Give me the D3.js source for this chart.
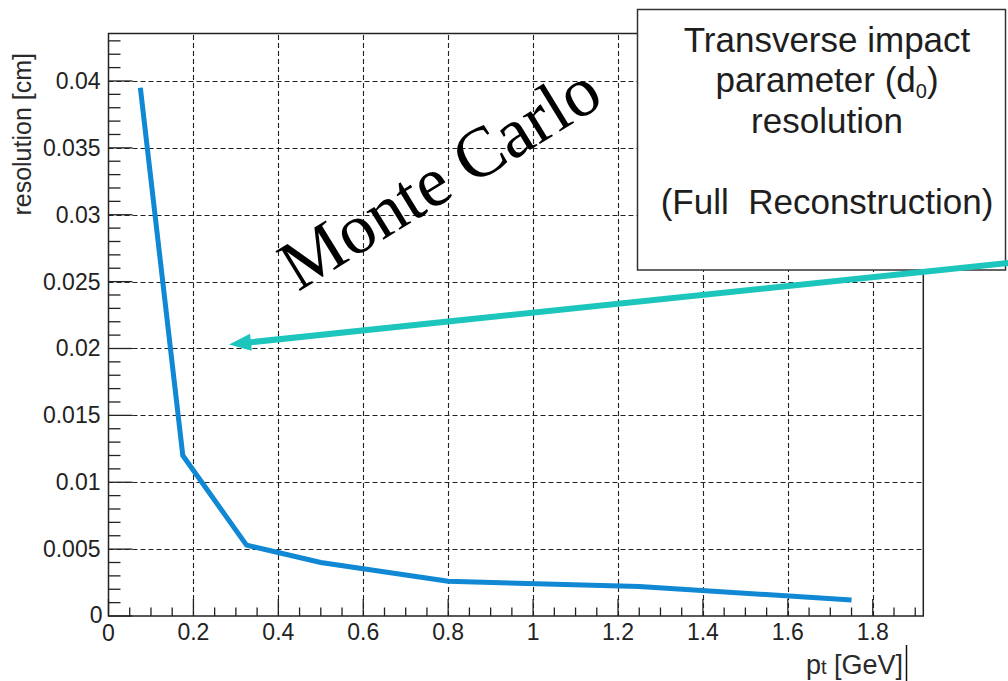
<!DOCTYPE html>
<html lang="en">
<head>
    <meta charset="UTF-8">
    <title>d0 resolution vs pt</title>
    <style>
        body, html {
            margin: 0;
            background-color: #ffffff;
        }
        svg {
            display: block;
        }
        text {
            white-space: pre;
        }
    </style>
</head>
<body>
    <script src="https://d3js.org/d3.v7.min.js"></script>
    <script>
        // data
        var ptValues = [0.075, 0.175, 0.325, 0.5, 0.8, 1.25, 1.75];
        var resValues = [0.0395, 0.012, 0.0053, 0.004, 0.0026, 0.0022, 0.0012];

        var xTickValues = [0, 0.2, 0.4, 0.6, 0.8, 1, 1.2, 1.4, 1.6, 1.8];
        var xTickLabels = ["0", "0.2", "0.4", "0.6", "0.8", "1", "1.2", "1.4", "1.6", "1.8"];
        var yTickValues = [0, 0.005, 0.01, 0.015, 0.02, 0.025, 0.03, 0.035, 0.04];
        var yTickLabels = ["0", "0.005", "0.01", "0.015", "0.02", "0.025", "0.03", "0.035", "0.04"];

        // arrow in data coordinates: tail (off the right edge) -> tip
        var arrowFrom = [2.12, 0.0264];
        var arrowTo = [0.284, 0.0203];

        var boxLines = ["Transverse impact", "parameter (d0)", "resolution", "", "(Full  Reconstruction)"];

        var width = 1008,
            height = 681;
        var margin = {left: 108.5, top: 33.5, right: 1008 - 923.3, bottom: 681 - 616};

        var svg = d3.select("body").append("svg")
            .attr("width", width)
            .attr("height", height);

        var x = d3.scaleLinear().domain([0, 1.919]).range([margin.left, width - margin.right]);
        var y = d3.scaleLinear().domain([0, 0.04355]).range([height - margin.bottom, margin.top]);

        var x0 = x.range()[0], x1 = x.range()[1];
        var y0 = y.range()[0], y1 = y.range()[1];

        // grid
        var grid = svg.append("g").attr("stroke", "#222").attr("stroke-width", 1.1)
            .attr("stroke-dasharray", "5,3");
        grid.selectAll(".gx").data(xTickValues.slice(1)).enter().append("line")
            .attr("x1", d => Math.round(x(d)) + 0.5).attr("x2", d => Math.round(x(d)) + 0.5)
            .attr("y1", y0).attr("y2", y1);
        grid.selectAll(".gy").data(yTickValues.slice(1)).enter().append("line")
            .attr("y1", d => Math.round(y(d)) + 0.5).attr("y2", d => Math.round(y(d)) + 0.5)
            .attr("x1", x0).attr("x2", x1);

        // minor + major ticks (inside, ROOT style)
        var ticks = svg.append("g").attr("stroke", "#222").attr("stroke-width", 1.3);
        var xMinor = d3.range(0, 1.919, 0.05);
        ticks.selectAll(".tx").data(xMinor).enter().append("line")
            .attr("x1", d => x(d)).attr("x2", d => x(d))
            .attr("y1", y0).attr("y2", (d, i) => y0 - (i % 4 === 0 ? 17 : 8.5));
        var yMinor = d3.range(0, 0.0435, 0.001);
        ticks.selectAll(".ty").data(yMinor).enter().append("line")
            .attr("y1", d => y(d)).attr("y2", d => y(d))
            .attr("x1", x0).attr("x2", (d, i) => x0 + (i % 5 === 0 ? 24 : 12));

        // frame
        svg.append("rect")
            .attr("x", x0).attr("y", y1)
            .attr("width", x1 - x0).attr("height", y0 - y1)
            .attr("fill", "none").attr("stroke", "#222").attr("stroke-width", 1.5);

        // tick labels
        var labelFont = "Liberation Sans, Arial, sans-serif";
        svg.append("g").selectAll("text").data(xTickValues).enter().append("text")
            .attr("x", d => x(d))
            .attr("y", (d, i) => i === 0 ? y0 + 25 : y0 + 24)
            .attr("text-anchor", "middle")
            .attr("font-family", labelFont).attr("font-size", 23).attr("fill", "#222")
            .text((d, i) => xTickLabels[i]);
        svg.append("g").selectAll("text").data(yTickValues).enter().append("text")
            .attr("x", (d, i) => i === 0 ? x0 - 6 : x0 - 8)
            .attr("y", (d, i) => i === 0 ? y(d) + 7 : y(d) + 8)
            .attr("text-anchor", "end")
            .attr("font-family", labelFont).attr("font-size", 23).attr("fill", "#222")
            .text((d, i) => yTickLabels[i]);

        // axis titles
        svg.append("text")
            .attr("transform", "translate(31,53) rotate(-90)")
            .attr("text-anchor", "end")
            .attr("font-family", labelFont).attr("font-size", 25).attr("fill", "#2a2a2a")
            .text("resolution [cm]");
        var xt = svg.append("text")
            .attr("x", 903).attr("y", 674)
            .attr("text-anchor", "end")
            .attr("font-family", labelFont).attr("font-size", 27).attr("fill", "#2a2a2a");
        xt.append("tspan").text("p");
        xt.append("tspan").attr("font-size", 20).text("t");
        xt.append("tspan").text(" [GeV]");
        svg.append("line")
            .attr("x1", 906.5).attr("x2", 906.5).attr("y1", 645).attr("y2", 681)
            .attr("stroke", "#111").attr("stroke-width", 1.5);

        // the curve
        var pts = ptValues.map((d, i) => [d, resValues[i]]);
        var line = d3.line().x(d => x(d[0])).y(d => y(d[1]));
        svg.append("path")
            .datum(pts)
            .attr("d", line)
            .attr("fill", "none")
            .attr("stroke", "#1088d4")
            .attr("stroke-width", 5)
            .attr("stroke-linejoin", "miter");

        // Monte Carlo label
        svg.append("text")
            .attr("transform", "translate(298,292) rotate(-31.5)")
            .attr("font-family", "Liberation Serif, Times New Roman, serif")
            .attr("font-size", 71).attr("fill", "#000")
            .text("Monte Carlo");

        // text box
        svg.append("rect")
            .attr("x", 637.5).attr("y", 9.5).attr("width", 368).attr("height", 260.5)
            .attr("fill", "#fff").attr("stroke", "#333").attr("stroke-width", 1.5);
        var bt = svg.append("g")
            .attr("font-family", labelFont).attr("font-size", 35).attr("fill", "#1e1e1e")
            .attr("text-anchor", "middle");
        boxLines.forEach(function(s, i) {
            var t = bt.append("text").attr("x", 827).attr("y", 52 + i * 40.4);
            if (s === "parameter (d0)") {
                t.append("tspan").text("parameter (d");
                t.append("tspan").attr("font-size", 20).attr("dy", 6).text("0");
                t.append("tspan").attr("dy", -6).text(")");
            } else {
                t.text(s);
            }
        });

        // arrow
        var ax0 = x(arrowFrom[0]), ay0 = y(arrowFrom[1]);
        var ax1 = x(arrowTo[0]), ay1 = y(arrowTo[1]);
        var ang = Math.atan2(ay1 - ay0, ax1 - ax0);
        var headLen = 22, headW = 8.5;
        var bx = ax1 - headLen * Math.cos(ang), by = ay1 - headLen * Math.sin(ang);
        var teal = "#1dc6bc";
        svg.append("line")
            .attr("x1", ax0).attr("y1", ay0).attr("x2", bx + 6 * Math.cos(ang)).attr("y2", by + 6 * Math.sin(ang))
            .attr("stroke", teal).attr("stroke-width", 6);
        svg.append("path")
            .attr("d", d3.line()([
                [ax1, ay1],
                [bx + headW * Math.sin(ang), by - headW * Math.cos(ang)],
                [bx - headW * Math.sin(ang), by + headW * Math.cos(ang)]
            ]) + "Z")
            .attr("fill", teal);
    </script>
</body>
</html>
